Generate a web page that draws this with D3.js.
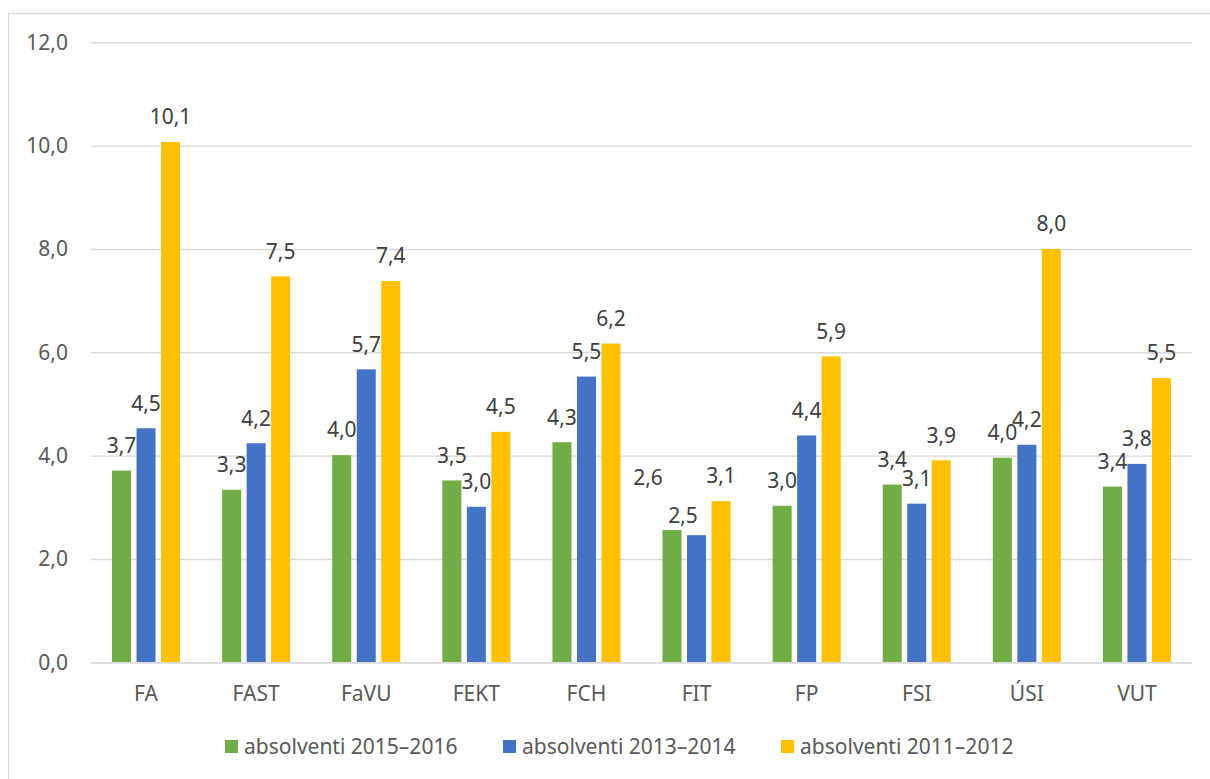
<!DOCTYPE html>
<html>
<head>
<meta charset="utf-8">
<script src="https://cdn.jsdelivr.net/npm/d3@7"></script>
<style>
  body { margin: 0; background: #fff; }
  svg { display: block; font-family: "Noto Sans", "Open Sans", sans-serif; }
</style>
</head>
<body>
<svg id="chart" width="1210" height="779"></svg>
<script>
// faculties on the x axis
var categories = ["FA", "FAST", "FaVU", "FEKT", "FCH", "FIT", "FP", "FSI", "ÚSI", "VUT"];
// series names, same order as the bars inside a group
var seriesNames = ["absolventi 2015–2016", "absolventi 2013–2014", "absolventi 2011–2012"];
var seriesColors = ["#70AD47", "#4472C4", "#FFC000"];
// values
var grads2015 = [3.71, 3.34, 4.01, 3.52, 4.26, 2.56, 3.03, 3.44, 3.96, 3.40];
var grads2013 = [4.53, 4.24, 5.67, 3.01, 5.53, 2.46, 4.39, 3.07, 4.21, 3.84];
var grads2011 = [10.07, 7.47, 7.38, 4.46, 6.17, 3.12, 5.92, 3.91, 8.00, 5.50];
var yTicks = [0, 2, 4, 6, 8, 10, 12];

var seriesValues = [grads2015, grads2013, grads2011];

// a couple of labels were moved by hand in the original (FIT)
var labelNudge = { "0-5": [-24, -27], "1-5": [-13.5, 5] };

var svg = d3.select("#chart");
var plotLeft = 91, plotRight = 1192, plotTop = 42.3, plotBottom = 662.3;

// outer chart border
svg.append("rect")
  .attr("x", 8.5).attr("y", 13.5)
  .attr("width", 1230).attr("height", 800)
  .attr("fill", "none")
  .attr("stroke", "#d9d9d9")
  .attr("stroke-width", 1.2);

var x = d3.scaleBand()
  .domain(categories)
  .range([plotLeft, plotRight])
  .paddingInner(0.382)
  .paddingOuter(0.191);

var xSub = d3.scaleBand()
  .domain(d3.range(seriesNames.length))
  .range([0, x.bandwidth()])
  .paddingInner(0.224)
  .paddingOuter(0);

var y = d3.scaleLinear().domain([0, 12]).range([plotBottom, plotTop]);

function fmt(v) { return v.toFixed(1).replace(".", ","); }

// gridlines + y labels
var yAxis = d3.axisLeft(y)
  .tickValues(yTicks)
  .tickSize(-(plotRight - plotLeft))
  .tickPadding(23)
  .tickFormat(fmt);

var gy = svg.append("g")
  .attr("transform", "translate(" + plotLeft + ",0)")
  .call(yAxis);
gy.select(".domain").remove();
gy.selectAll(".tick line")
  .attr("stroke", "#d9d9d9")
  .attr("stroke-width", 1.4);
gy.selectAll(".tick text")
  .attr("fill", "#595959")
  .style("font-size", "21px")
  .style("font-family", "'Noto Sans', 'Open Sans', sans-serif");

// bars
var groups = svg.append("g").selectAll("g")
  .data(categories)
  .enter().append("g")
  .attr("transform", function(d) { return "translate(" + x(d) + ",0)"; });

groups.each(function(cat, ci) {
  var g = d3.select(this);
  for (var s = 0; s < seriesValues.length; s++) {
    var v = seriesValues[s][ci];
    g.append("rect")
      .attr("x", xSub(s))
      .attr("y", y(v))
      .attr("width", xSub.bandwidth())
      .attr("height", y(0) - y(v))
      .attr("fill", seriesColors[s]);
  }
});

// data labels
groups.each(function(cat, ci) {
  var g = d3.select(this);
  for (var s = 0; s < seriesValues.length; s++) {
    var v = seriesValues[s][ci];
    var nudge = labelNudge[s + "-" + ci] || [0, 0];
    g.append("text")
      .attr("x", xSub(s) + xSub.bandwidth() / 2 + nudge[0])
      .attr("y", y(v) - 25 + nudge[1])
      .attr("dy", "0.35em")
      .attr("text-anchor", "middle")
      .attr("fill", "#404040")
      .style("font-size", "21px")
      .text(fmt(v));
  }
});

// x axis line and category labels
var xAxis = d3.axisBottom(x).tickSize(0).tickPadding(24);
var gx = svg.append("g")
  .attr("transform", "translate(0," + plotBottom + ")")
  .call(xAxis);
gx.select(".domain")
  .attr("stroke", "#d9d9d9")
  .attr("stroke-width", 1.6);
gx.selectAll(".tick text")
  .attr("fill", "#595959")
  .style("font-size", "21px")
  .style("font-family", "'Noto Sans', 'Open Sans', sans-serif");

// legend
var legend = svg.append("g");
var legendStart = 225, legendStep = 278;
seriesNames.forEach(function(name, i) {
  var lx = legendStart + i * legendStep;
  legend.append("rect")
    .attr("x", lx).attr("y", 740)
    .attr("width", 13).attr("height", 13)
    .attr("fill", seriesColors[i]);
  legend.append("text")
    .attr("x", lx + 19)
    .attr("y", 746.7)
    .attr("dy", "0.35em")
    .attr("fill", "#595959")
    .style("font-size", "21px")
    .text(name);
});
</script>
</body>
</html>
